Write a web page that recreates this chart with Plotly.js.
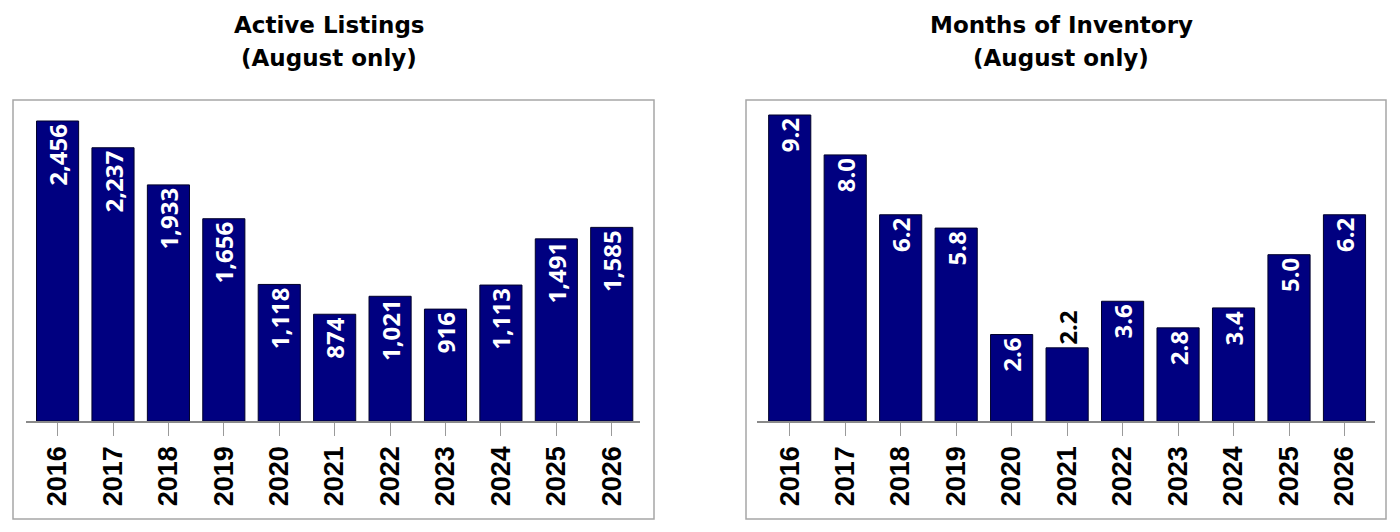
<!DOCTYPE html>
<html>
<head>
<meta charset="utf-8">
<script src="https://cdn.plot.ly/plotly-3.0.1.min.js"></script>
<style>
  html, body { margin: 0; padding: 0; background: white; }
  #chart { width: 1400px; height: 532px; }
</style>
</head>
<body>
<div id="chart"></div>
<script>
// August values, 2016 - 2026
var years = ['2016', '2017', '2018', '2019', '2020', '2021', '2022', '2023', '2024', '2025', '2026'];
var activeListings = [2456, 2237, 1933, 1656, 1118, 874, 1021, 916, 1113, 1491, 1585];
var monthsInventory = [9.2, 8.0, 6.2, 5.8, 2.6, 2.2, 3.6, 2.8, 3.4, 5.0, 6.2];

var titlesLeft = ['Active Listings', '(August only)'];
var titlesRight = ['Months of Inventory', '(August only)'];

var W = 1400, H = 532;
var navy = 'rgb(0,0,128)';

function px(x) { return x / W; }
function py(y) { return (H - y) / H; }

var labelFont = { family: 'Open Sans', size: 24, weight: 700 };

var barStyle = {
    type: 'bar',
    marker: { color: navy, line: { color: '#00002a', width: 1 } },
    textangle: -90,
    insidetextanchor: 'end',
    constraintext: 'none',
    insidetextfont: Object.assign({ color: 'white' }, labelFont),
    outsidetextfont: Object.assign({ color: 'black' }, labelFont),
    cliponaxis: false,
    hoverinfo: 'skip'
};

// the short 2021 bar has its label above the bar
var positionsRight = monthsInventory.map(function(v) { return v < 2.5 ? 'outside' : 'inside'; });

var plot_data = [
    Object.assign({}, barStyle, {
        x: years, y: activeListings,
        texttemplate: '%{y:,}',
        textposition: 'inside',
        xaxis: 'x', yaxis: 'y'
    }),
    Object.assign({}, barStyle, {
        x: years, y: monthsInventory,
        texttemplate: '%{y:.1f}',
        textposition: positionsRight,
        xaxis: 'x2', yaxis: 'y2'
    })
];

var xStyle = {
    type: 'category',
    range: [-0.57, 10.51],
    showline: true,
    linecolor: '#8a8a8a',
    linewidth: 1.5,
    ticks: 'outside',
    ticklen: 13,
    tickwidth: 1,
    tickcolor: '#9a9a9a',
    tickangle: -90,
    tickfont: { family: 'Liberation Sans', size: 27, color: 'black', weight: 700 },
    showgrid: false,
    zeroline: false,
    automargin: false,
    fixedrange: true
};

var yStyle = {
    showgrid: false,
    zeroline: false,
    showticklabels: false,
    showline: false,
    ticks: '',
    automargin: false,
    fixedrange: true
};

var yDomain = [py(421), py(100)];

var layout = {
    width: W,
    height: H,
    margin: { l: 0, r: 0, t: 0, b: 0 },
    paper_bgcolor: 'white',
    plot_bgcolor: 'rgba(0,0,0,0)',
    showlegend: false,
    bargap: 0.24,
    xaxis: Object.assign({}, xStyle, { domain: [px(26), px(640)], anchor: 'y' }),
    yaxis: Object.assign({}, yStyle, { domain: yDomain, range: [0, 2456 * 321 / 300], anchor: 'x' }),
    xaxis2: Object.assign({}, xStyle, { domain: [px(757), px(1375)], anchor: 'y2', range: [-0.59, 10.55] }),
    yaxis2: Object.assign({}, yStyle, { domain: yDomain, range: [0, 9.2 * 321 / 306], anchor: 'x2' }),
    shapes: [
        { type: 'rect', xref: 'paper', yref: 'paper', x0: px(13), x1: px(654), y0: py(519), y1: py(100),
          line: { color: '#a6a6a6', width: 1.5 }, fillcolor: 'rgba(0,0,0,0)', layer: 'below' },
        { type: 'rect', xref: 'paper', yref: 'paper', x0: px(746), x1: px(1386), y0: py(519), y1: py(100),
          line: { color: '#a6a6a6', width: 1.5 }, fillcolor: 'rgba(0,0,0,0)', layer: 'below' }
    ],
    annotations: []
};

// two title lines per panel
var titleFont = { family: 'DejaVu Sans', size: 23, color: '#000', weight: 700 };
[[titlesLeft, 329], [titlesRight, 1061]].forEach(function(t) {
    t[0].forEach(function(line, i) {
        layout.annotations.push({
            text: line, xref: 'paper', yref: 'paper',
            x: px(t[1]), y: py(i == 0 ? 25 : 58),
            xanchor: 'center', yanchor: 'middle',
            showarrow: false, font: titleFont
        });
    });
});

var config = { displayModeBar: false, staticPlot: true };
Plotly.newPlot(document.getElementById('chart'), plot_data, layout, config);
</script>
</body>
</html>
